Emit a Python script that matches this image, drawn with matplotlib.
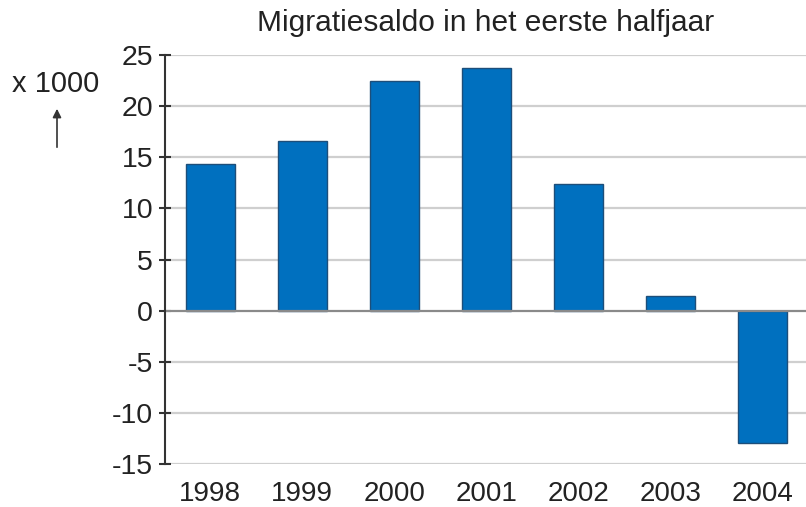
import matplotlib
matplotlib.use("Agg")
import matplotlib.pyplot as plt

jaren = ["1998", "1999", "2000", "2001", "2002", "2003", "2004"]
saldo = [14.3, 16.6, 22.5, 23.7, 12.4, 1.4, -12.9]  # x 1000
yticks = [-15, -10, -5, 0, 5, 10, 15, 20, 25]

BLAUW = "#0070bf"
RAND = "#1d4e7a"
TEKST = "#222222"

plt.rcParams['font.family'] = ['Liberation Sans', 'DejaVu Sans']

fig = plt.figure(figsize=(8.06, 5.07), dpi=100)
ax = fig.add_axes([165/806, 1 - 464/507, 1 - 165/806, (464 - 55)/507])

x = list(range(len(jaren)))
ax.bar(x, saldo, width=0.53, color=BLAUW, edgecolor=RAND, linewidth=1.0, zorder=3)

ax.set_ylim(-15, 25)
ax.set_xlim(-0.49, 6.47)
ax.set_yticks(yticks)
ax.set_yticklabels([str(t) for t in yticks])
ax.set_xticks(x)
ax.set_xticklabels(jaren)

for t in yticks:
    if t == 0:
        ax.axhline(t, color="#8a8a8a", lw=1.6, zorder=4)
    else:
        ax.axhline(t, color="#cfcfcf", lw=1.6, zorder=1)

for s in ["top", "right", "bottom"]:
    ax.spines[s].set_visible(False)
ax.spines["left"].set_color("#333333")
ax.spines["left"].set_linewidth(1.5)
ax.spines["left"].set_zorder(5)

ax.tick_params(axis="y", direction="inout", length=9, width=1.5, color="#333333",
               labelsize=20.5, labelcolor=TEKST, pad=4)
ax.tick_params(axis="x", length=0, labelsize=20, labelcolor=TEKST, pad=12)

fig.text(486/806, 1 - 23/507, "Migratiesaldo in het eerste halfjaar", ha="center", va="center",
         fontsize=21.5, color=TEKST)
fig.text(56/806, 1 - 84/507, "x 1000", ha="center", va="center", fontsize=21, color=TEKST)
fig.add_artist(matplotlib.patches.FancyArrowPatch((57/806, 1 - 150/507), (57/806, 1 - 106/507),
                                                  transform=fig.transFigure, arrowstyle="-|>,head_length=5,head_width=2.5",
                                                  color="#333333", lw=1.2))

fig.savefig("out.png", dpi=100)
